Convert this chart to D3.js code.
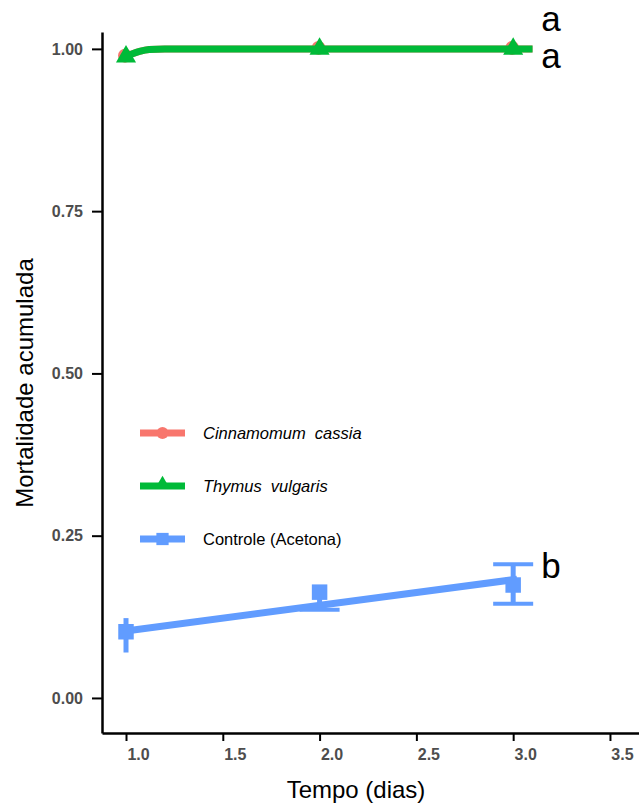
<!DOCTYPE html>
<html>
<head>
<meta charset="utf-8">
<script src="https://cdn.jsdelivr.net/npm/d3@7"></script>
<style>
  body { margin: 0; background: #fff; }
  svg text { font-family: "Liberation Sans", Arial, sans-serif; }
</style>
</head>
<body>
<div id="chart-area"></div>
<script>
// values
var days = [1, 2, 3];
var cassiaMort = [0.988, 1.0, 1.0];
var thymusMort = [0.988, 1.0, 1.0];
var controlMort = [0.102, 0.163, 0.174];
var controlLow = [0.07, 0.136, 0.145];
var controlHigh = [0.123, 0.163, 0.206];

// fitted curves
var fitDays = [0.98, 1.03, 1.07, 1.12, 1.2, 3.1];
var cassiaFit = [0.986, 0.992, 0.996, 0.999, 1.0, 1.0];
var thymusFit = [0.986, 0.992, 0.996, 0.999, 1.0, 1.0];
var controlFitDays = [0.97, 3.02];
var controlFit = [0.102, 0.183];

var xTicks = [1, 1.5, 2, 2.5, 3, 3.5];
var yTicks = [0, 0.25, 0.5, 0.75, 1];
var seriesNames = ["Cinnamomum  cassia", "Thymus  vulgaris", "Controle (Acetona)"];
var letters = ["a", "a", "b"];
var letterVals = [1.027, 0.971, 0.185];

var red = "#F8766D", green = "#00BA38", blue = "#619CFF";
var width = 639, height = 808;

var x = d3.scaleLinear().domain([0.876, 3.65]).range([102, 639]);
var y = d3.scaleLinear().domain([-0.054, 1.026]).range([733, 32]);

var svg = d3.select("#chart-area").append("svg")
    .attr("width", width)
    .attr("height", height);

// axes
var yAxis = d3.axisLeft(y).tickValues(yTicks).tickFormat(d3.format(".2f"))
    .tickSize(10).tickSizeOuter(0).tickPadding(9);
var xAxis = d3.axisBottom(x).tickValues(xTicks).tickFormat(d3.format(".1f"))
    .tickSize(8).tickSizeOuter(0).tickPadding(8);

var gy = svg.append("g").attr("transform", "translate(102,0)").call(yAxis);
var gx = svg.append("g").attr("transform", "translate(0,733)").call(xAxis);

[gx, gy].forEach(function(g){
    g.select(".domain").attr("stroke", "#000").attr("stroke-width", 2.5);
    g.selectAll(".tick line").attr("stroke", "#000").attr("stroke-width", 2);
    g.selectAll(".tick text")
        .attr("fill", "#4D4D4D")
        .style("font-size", "16px")
        .style("font-weight", "bold");
});
gx.selectAll(".tick text").attr("dx", 12);

svg.append("text")
    .attr("x", 356).attr("y", 798)
    .attr("text-anchor", "middle")
    .style("font-size", "24px")
    .text("Tempo (dias)");

svg.append("text")
    .attr("transform", "translate(33,383) rotate(-90)")
    .attr("text-anchor", "middle")
    .style("font-size", "24px")
    .text("Mortalidade acumulada");

var line = d3.line()
    .x(function(d){ return x(d[0]); })
    .y(function(d){ return y(d[1]); })
    .curve(d3.curveMonotoneX);

// control
svg.append("path")
    .datum(d3.zip(controlFitDays, controlFit))
    .attr("d", line)
    .attr("fill", "none").attr("stroke", blue).attr("stroke-width", 7);

var eb = svg.append("g").attr("stroke", blue);
days.forEach(function(d, i){
    eb.append("line")
        .attr("x1", x(d)).attr("x2", x(d))
        .attr("y1", y(controlLow[i])).attr("y2", y(controlHigh[i]))
        .attr("stroke-width", 5);
    if (d > 1) {
        [controlLow[i], controlHigh[i]].forEach(function(v){
            if (Math.abs(v - controlMort[i]) < 0.005) return;
            eb.append("line")
                .attr("x1", x(d) - 20).attr("x2", x(d) + 20)
                .attr("y1", y(v)).attr("y2", y(v))
                .attr("stroke-width", 4);
        });
    }
});

svg.append("g").selectAll("path")
    .data(d3.zip(days, controlMort))
    .join("path")
    .attr("transform", function(d){ return "translate(" + x(d[0]) + "," + y(d[1]) + ")"; })
    .attr("d", d3.symbol(d3.symbolSquare, 240))
    .attr("fill", blue);

// Cinnamomum cassia
svg.append("path")
    .datum(d3.zip(fitDays, cassiaFit))
    .attr("d", line)
    .attr("fill", "none").attr("stroke", red).attr("stroke-width", 7);
svg.append("g").selectAll("circle")
    .data(d3.zip(days, cassiaMort))
    .join("circle")
    .attr("cx", function(d){ return x(d[0]) - 1; })
    .attr("cy", function(d){ return y(d[1]) - 1; })
    .attr("r", 7)
    .attr("fill", red);

// Thymus vulgaris
svg.append("path")
    .datum(d3.zip(fitDays, thymusFit))
    .attr("d", line)
    .attr("fill", "none").attr("stroke", green).attr("stroke-width", 7);
svg.append("g").selectAll("path")
    .data(d3.zip(days, thymusMort))
    .join("path")
    .attr("transform", function(d){ return "translate(" + x(d[0]) + "," + y(d[1]) + ")"; })
    .attr("d", d3.symbol(d3.symbolTriangle, 175))
    .attr("fill", green);

// significance letters
svg.append("g").selectAll("text")
    .data(d3.zip(letters, letterVals))
    .join("text")
    .attr("x", x(3) + 28)
    .attr("y", function(d){ return y(d[1]); })
    .style("font-size", "35px")
    .text(function(d){ return d[0]; });

// legend
var colors = [red, green, blue];
var shapes = [d3.symbolCircle, d3.symbolTriangle, d3.symbolSquare];
var shapeSize = [110, 90, 150];
var legend = svg.append("g").attr("transform", "translate(140,433)");
seriesNames.forEach(function(name, i){
    var row = legend.append("g").attr("transform", "translate(0," + (i * 53) + ")");
    row.append("line")
        .attr("x1", 0).attr("x2", 45)
        .attr("stroke", colors[i]).attr("stroke-width", 7);
    row.append("path")
        .attr("transform", "translate(22.5," + (i == 1 ? -2 : 0) + ")")
        .attr("d", d3.symbol(shapes[i], shapeSize[i]))
        .attr("fill", colors[i]);
    row.append("text")
        .attr("x", 63).attr("dy", "0.35em")
        .style("font-size", "16.5px")
        .style("font-style", i < 2 ? "italic" : "normal")
        .style("white-space", "pre")
        .text(name);
});
</script>
</body>
</html>
